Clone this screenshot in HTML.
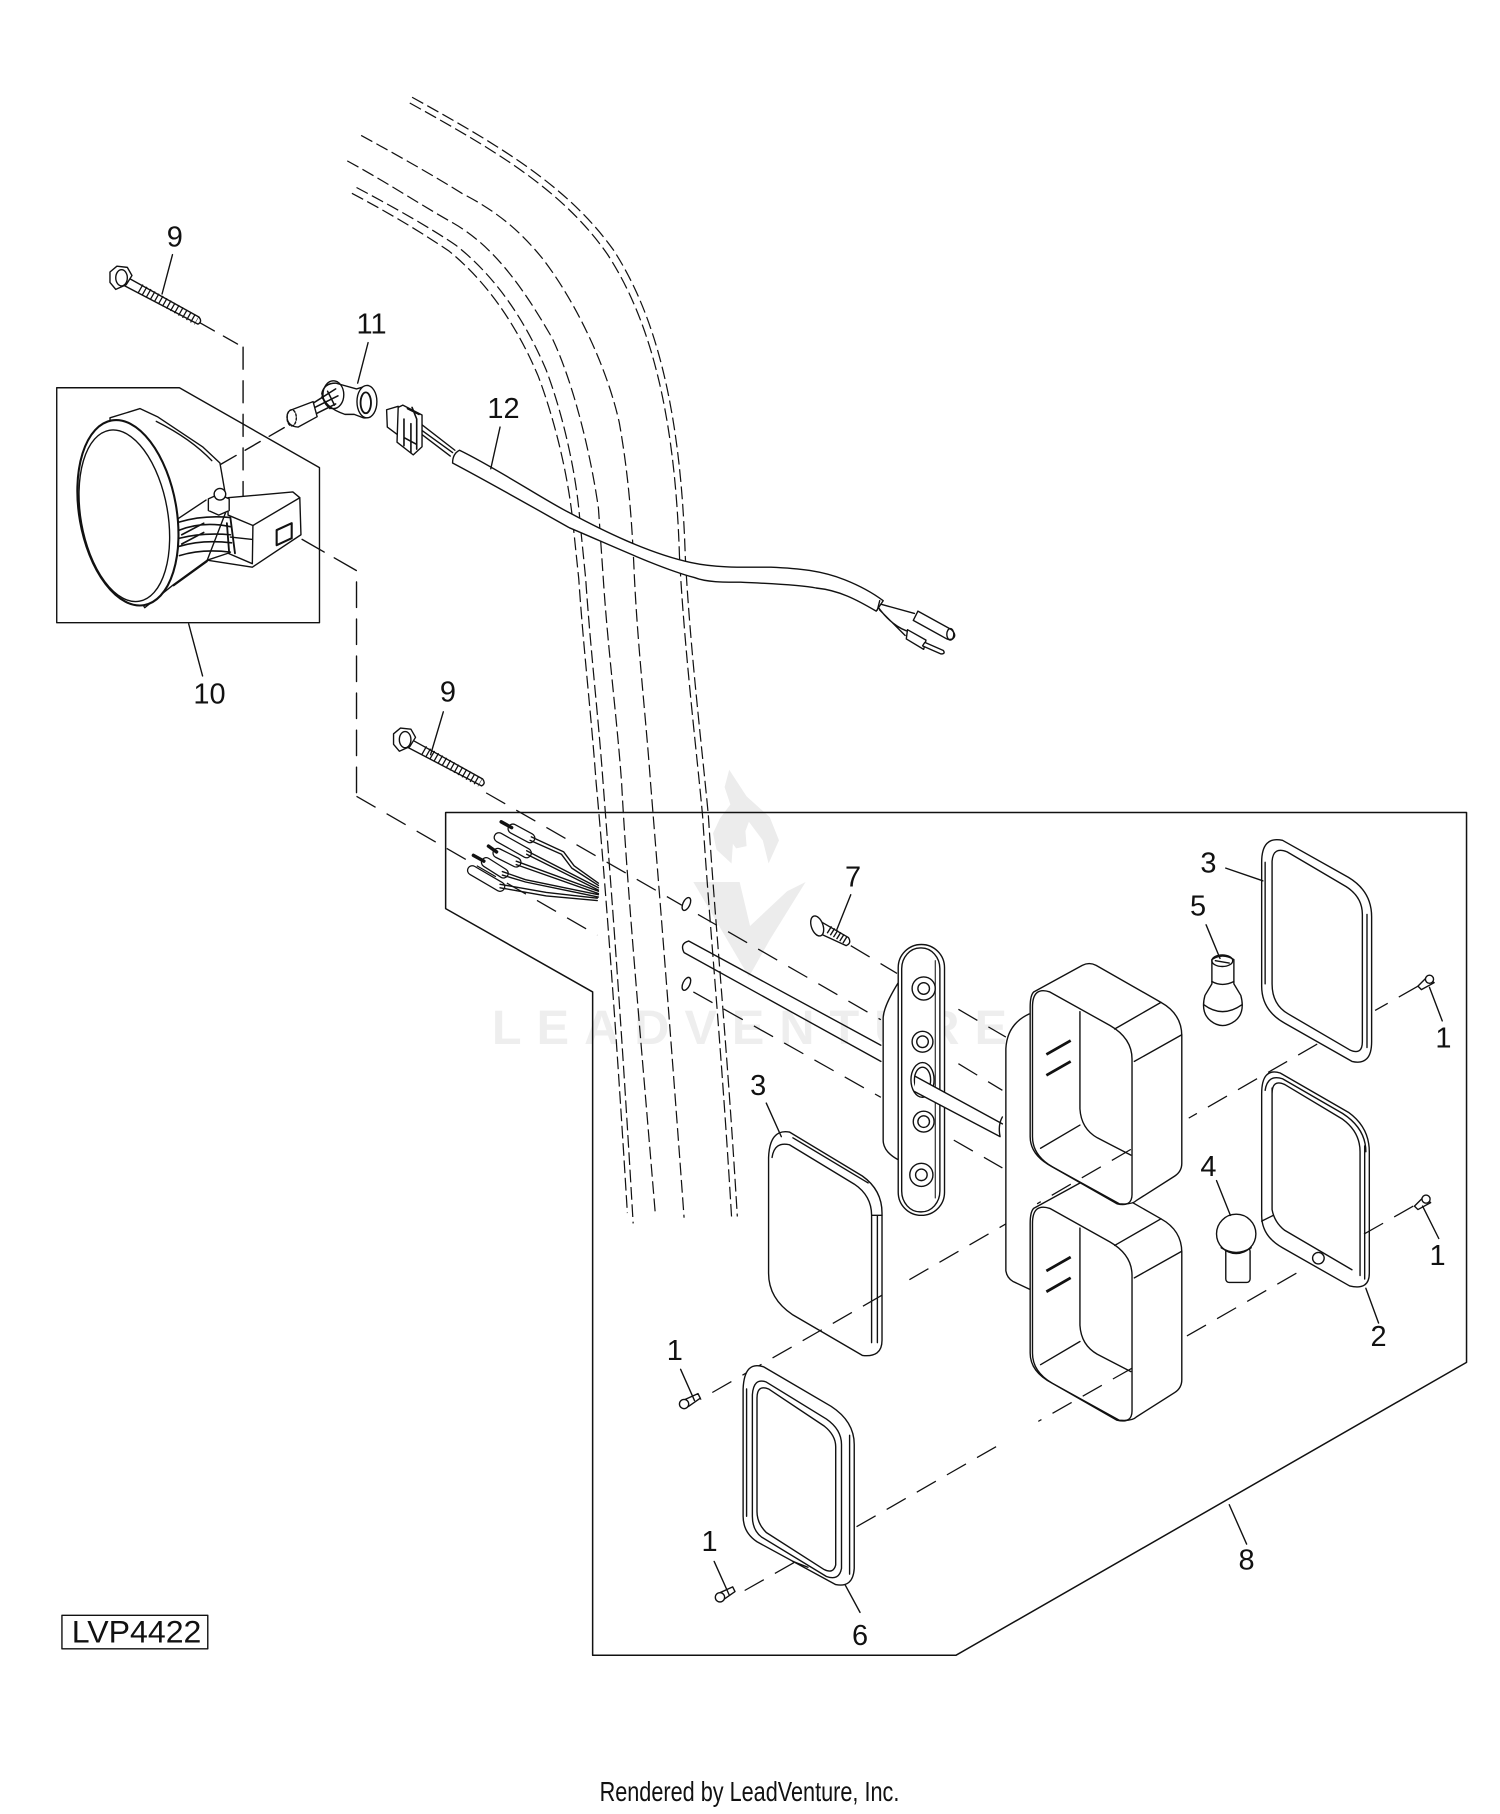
<!DOCTYPE html>
<html><head><meta charset="utf-8"><style>
html,body{margin:0;padding:0;background:#fff;width:1500px;height:1814px;overflow:hidden}
svg{display:block}
text{font-family:"Liberation Sans",sans-serif;fill:#111}
.n{font-size:25px;text-anchor:middle}
.s{fill:none;stroke:#111;stroke-width:1.2;stroke-linejoin:round;stroke-linecap:round}
.w{fill:#fff;stroke:#111;stroke-width:1.2;stroke-linejoin:round}
.h{fill:none;stroke:#111;stroke-width:1.05;stroke-dasharray:11 4}
.d{fill:none;stroke:#111;stroke-width:1.1;stroke-dasharray:19 11}
</style></head><body>
<svg width="1500" height="1814" viewBox="0 0 1295.9 1567.2" xmlns="http://www.w3.org/2000/svg">
<!-- watermark -->
<g fill="#ececec">
<path d="M630,665 L645,688 L665,706 L673,726 L664,746 L659,726 L647,710 L644,718 L645,731 L636,733 L631,726 L634,717 L632,746 L619,734 L616,720 L622,707 L631,695 L626,680Z"/>
<path d="M599,762 L639,762 L648,800 L680,770 L696,762 L665,812 L647,844Z"/>
<text x="425" y="902" font-size="42" font-weight="bold" textLength="445" lengthAdjust="spacing" style="fill:#eeeeee">LEADVENTURE</text>
</g>
<!-- hidden dashed curves -->
<path class="h" d="M356,84 C430,125 490,160 530,216 C565,270 588,350 592,480 C596,560 608,660 612,705 C618,800 628,900 637,1051"/>
<path class="h" d="M354,89 C428,130 486,164 525,220 C560,274 583,352 587,480 C591,560 603,660 607,705 C613,800 623,900 632,1051"/>
<path class="h" d="M312,117 C345,135 375,152 399,167 C430,183 450,200 470,225 C500,265 525,320 535,365 C543,410 546,450 548,497 C551,560 558,620 562,676 C568,750 580,900 591,1052"/>
<path class="h" d="M300,139 C335,158 365,178 392,193 C425,212 450,245 477,292 C495,330 510,390 517,439 L521,497 C525,560 533,620 537,676 C542,770 553,890 566,1047"/>
<path class="h" d="M308,162 C342,180 372,197 394,212 C427,238 453,275 472,320 C487,360 498,410 501,450 L506,500 C510,560 517,620 521,676 C525,730 535,850 547,1057"/>
<path class="h" d="M304,167 C338,185 366,202 388,217 C420,243 446,280 465,325 C480,365 491,412 495,452 L500,500 C504,560 511,620 515,676 C520,730 530,850 542,1048"/>
<!-- boxes -->
<path class="s" d="M49,335 L155,335 L276,404 L276,538 L49,538Z"/>
<path class="s" d="M385,702 L1267,702 L1267,1177 L826,1430 L512,1430 L512,857 L385,785Z" style="stroke-width:1.3"/>
<!-- assembly dashes -->
<path class="s" style="stroke-dasharray:19 10" d="M210,300 L210,430"/>
<path class="s" style="stroke-dasharray:14 9" d="M173,279 L210,300"/>
<path class="s" style="stroke-dasharray:15 9" d="M191,401 L248,368"/>
<path class="s" style="stroke-dasharray:22 10" d="M261,466 L308,493 L308,688"/>
<path class="d" d="M308,688 L516,808"/>
<path class="d" d="M599,857 L761,948"/>
<path class="d" d="M824,985 L866,1009"/>
<path class="d" d="M420,685 L589,782"/>
<path class="d" d="M603,790 L761,881"/>
<path class="d" d="M828,919 L866,942"/>
<path class="d" d="M735,817 L775,841"/>
<path class="d" d="M828,872 L869,896"/>
<path class="d" d="M1225,852 L1188,873"/>
<path class="d" d="M1138,902 L1027,966"/>
<path class="d" d="M880,1051 L778,1110"/>
<path class="d" d="M762,1119 L605,1209"/>
<path class="d" d="M1221,1042 L1177,1067"/>
<path class="d" d="M1120,1100 L1024,1155"/>
<path class="d" d="M740,1319 L862,1249"/>
<path class="d" d="M686,1350 L640,1376"/>
<!-- lamp 10 -->
<path class="w" d="M95,361 L121,353 L136,360 L175,386 L190,400 L194,423 L196,440 L179,484 L150,505 L125,525 L100,480Z"/>
<path class="s" d="M135,364 Q165,379 183,398"/>
<path class="s" d="M154,448 L178,432 M150,506 L179,485"/>
<g transform="rotate(-10 110.5 443)">
<ellipse cx="110.5" cy="443" rx="42" ry="81" class="w" style="stroke-width:1.8"/>
<ellipse cx="107" cy="445" rx="37.5" ry="75" class="s"/>
</g>
<path class="s" d="M155,451 Q175,445 198,447 M155,458 Q175,450 199,455 M155,465 Q175,460 199,462 M155,472 Q175,466 200,469 M155,480 Q175,474 199,477 M157,462 L176,452 M157,470 L176,460" style="stroke-width:1.4"/>
<path class="s" d="M199,447 L203,478 M196,452 L198,478" style="stroke-width:1.6"/>
<path class="w" d="M197,430 L253,425 L259,430 L260,462 L218,490 L179,484 L197,478 L218,487 L218.5,454 L197,445Z"/>
<path class="s" d="M218.5,454 L259,430 M199,464 L218,466"/>
<path class="w" d="M239,458 L252,452 L252,465 L239,471Z" style="stroke-width:1.8"/>
<path class="w" d="M180,431 L189,427 L198,431 L198,441 L189,445 L180,441Z"/>
<ellipse cx="190" cy="427" rx="5" ry="5" class="w"/>
<!-- socket 11 -->
<path class="w" d="M278,340 Q280,331 290,331 L308,336 L318,333 Q326,340 325,351 Q322,362 314,361 L306,358 L298,358 Q280,352 278,340Z"/>
<ellipse cx="288" cy="341" rx="9" ry="12" class="s"/>
<ellipse cx="317" cy="347" rx="8.6" ry="14" class="w"/>
<ellipse cx="316" cy="348" rx="4.5" ry="9" class="s" style="stroke-width:1.6"/>
<path class="s" d="M271,348 L290,336 M272,352 L292,342 M274,357 L290,349 M278,343 L285,353 M283,338 L289,350" style="stroke-width:1.3"/>
<path class="w" d="M252,354 L270.5,347 L274,360 L257.5,369 Q248,368 248,360 Q248,355 252,354Z"/>
<ellipse cx="252" cy="361" rx="4" ry="7" class="s" style="stroke-dasharray:2 1.5"/>
<!-- connector 12 -->
<path class="s" d="M364.6,367 L393,389 M360,372 L389,394 M362,370 L391,391"/>
<path class="w" d="M334,354 L344,351 L348,374 L344,376 L334.6,369Z"/>
<path class="w" d="M344,352 L348,350 L364.6,358.5 L364.6,386 L357,393 L343,382Z"/>
<path class="s" d="M352,353 L362,358 M356,352 L360,362 M349,362 L349,385 M355,366 L355,391 M349,378 L360,384 M360,362 L360,388" style="stroke-width:1.4"/>
<!-- harness -->
<path class="w" d="M397,389 C430,405 470,432 492,443 C520,458 560,478 597,486 C620,491 645,490 666,490 C690,491 710,493 730,501 C745,507 755,513 763,519 L757,528 C740,518 725,510 705,508 C690,505 660,504 640,503 C625,503 610,503 600,499 C570,491 530,472 492,456 C460,438 425,418 391,400 Q391,392 397,389Z"/>
<path class="s" d="M760,519 L758,527 M761,522 L790,530 M759,525 Q770,540 783,545 M760,527 L782,549"/>
<path class="w" d="M793,528 L822,544 Q827,549 823,552 Q820,553 818,552 L789,536Z"/>
<ellipse cx="821" cy="548" rx="3" ry="5" class="s"/>
<path class="w" d="M784,544 L800,553 L798,561 L783,552Z"/>
<path class="w" d="M799,555 L815,562 Q817,565 813,565 L797,558Z"/>
<!-- bolts -->
<g id="b1"><path class="w" d="M107,238 L172,274 Q175,278 171,280 L104,245Z"/>
<path d="M121,249 L170,277" stroke="#111" stroke-width="8" stroke-dasharray="1.1 2.9" fill="none"/>
<path d="M122,250 L170,277" stroke="#fff" stroke-width="4" stroke-dasharray="1.2 2.8" fill="none" opacity=".0"/>
<path class="w" d="M95,235 L101,230 L110,231 L114,238 L109,246 L100,250 L95,244Z"/>
<ellipse cx="105" cy="240" rx="5" ry="7" class="s"/></g>
<g transform="translate(245 399)"><path class="w" d="M107,238 L172,274 Q175,278 171,280 L104,245Z"/>
<path d="M121,249 L170,277" stroke="#111" stroke-width="8" stroke-dasharray="1.1 2.9" fill="none"/>
<path class="w" d="M95,235 L101,230 L110,231 L114,238 L109,246 L100,250 L95,244Z"/>
<ellipse cx="105" cy="240" rx="5" ry="7" class="s"/></g>
<!-- wire plugs -->
<g fill="none" stroke-linecap="round">
<path d="M443,716 L458,724 M431,723.500 L455,737 M430,737 L446,745 M420,745 L435,754.500 M408,752 L432,766" stroke="#111" stroke-width="9.2"/>
<path d="M443,716 L458,724 M431,723.500 L455,737 M430,737 L446,745 M420,745 L435,754.500 M408,752 L432,766" stroke="#fff" stroke-width="7"/>
<path d="M433,710 L442,715 M422,731 L429,736 M409,739 L418,744" stroke="#111" stroke-width="3"/>
</g>
<path class="s" d="M459,723 L487,736 L496,748 L517,763 M458,726 L485,738 L494,750 L517,765 M455,735 L517,767 M455,738 L517,769 M446,744 L517,770 M446,747 L517,772 M434,753 L454,760 L517,773 M434,756 L454,762 L517,775 M432,764 L472,771 L516,776 M432,767 L472,774 L516,778"/>
<!-- rod -->
<path class="s" d="M595,813 L761,903 M591,823 L761,917 M595,813 Q587,815 591,823"/>
<!-- flange behind housings -->
<path d="M889,876 Q870,885 869,906 L869,1098 Q870,1104 875,1107 L892,1115 L900,876Z" fill="#fff"/>
<path class="s" d="M889,876 Q870,885 869,906 L869,1098 Q870,1104 875,1107 L892,1115"/>
<!-- plate -->
<path class="w" d="M776,849 Q763,870 763,880 L763,985 Q763,995 776,1002 L790,1002 L790,849Z"/>
<rect x="776" y="816" width="40" height="234" rx="20" ry="20" class="w"/>
<rect x="779" y="819" width="33" height="228" rx="16" ry="18" class="s"/>
<path class="s" d="M808,830 L808,1035" style="stroke-width:.9"/>
<circle cx="798" cy="854" r="10" class="w"/><circle cx="798" cy="854" r="5" class="s"/>
<circle cx="797" cy="900" r="9" class="w"/><circle cx="797" cy="900" r="5" class="s"/>
<ellipse cx="797" cy="933" rx="10" ry="15" class="w"/><ellipse cx="797" cy="933" rx="7" ry="11" class="s"/>
<circle cx="798" cy="969" r="9" class="w"/><circle cx="798" cy="969" r="5" class="s"/>
<circle cx="796" cy="1015" r="10" class="w"/><circle cx="796" cy="1015" r="5" class="s"/>
<path d="M791,930 L866,971 L866,982 L790,943Z" fill="#fff"/>
<path class="s" d="M791,930 L866,971 M790,943 L864,982 M866,965 Q862,972 864,982"/>
<!-- small screw 7 -->
<path class="w" d="M707,795 L733,810 Q736,815 731,817 L707,806Z"/>
<path d="M716,803 L732,813" stroke="#111" stroke-width="7" stroke-dasharray="1.2 2" fill="none"/>
<ellipse cx="706" cy="800" rx="5" ry="9" class="w" transform="rotate(-20 706 800)"/>
<!-- o-rings -->
<ellipse cx="593" cy="781" rx="3" ry="6" class="w" transform="rotate(25 593 781)"/>
<ellipse cx="593" cy="850" rx="3" ry="6" class="w" transform="rotate(25 593 850)"/>
<!-- housings -->
<g transform="translate(-3 187)">
<path class="w" d="M896,857 L938,834 Q944,831 950,834 L1006,866 Q1024,876 1024,895 L1024,1005 Q1024,1012 1018,1016 L985,1037 Q981,1041 970,1040 L912,1008 Q893,998 893,982 L893,870 Q893,860 896,857Z"/>
<path class="s" d="M895,870 Q895,852 910,857 L962,886 Q981,897 981,915 L981,1032 Q981,1043 968,1040 L912,1008 Q895,998 895,982Z"/>
<path class="s" d="M966,889 L1006,866 M983,917 L1024,894 M936,874 L936,958 Q937,975 951,983 L980,998 M902,992 L936,972"/>
<path d="M907,911 L928,899 M907,929 L928,917" stroke="#111" stroke-width="2.4" fill="none"/>
</g>
<g transform="translate(-3 0)">
<path class="w" d="M896,857 L938,834 Q944,831 950,834 L1006,866 Q1024,876 1024,895 L1024,1005 Q1024,1012 1018,1016 L985,1037 Q981,1041 970,1040 L912,1008 Q893,998 893,982 L893,870 Q893,860 896,857Z"/>
<path class="s" d="M895,870 Q895,852 910,857 L962,886 Q981,897 981,915 L981,1032 Q981,1043 968,1040 L912,1008 Q895,998 895,982Z"/>
<path class="s" d="M966,889 L1006,866 M983,917 L1024,894 M936,874 L936,958 Q937,975 951,983 L980,998 M902,992 L936,972"/>
<path d="M907,911 L928,899 M907,929 L928,917" stroke="#111" stroke-width="2.4" fill="none"/>
<path class="d" d="M980,993 L899,1040"/>
<path class="d" d="M981,1182 L900,1228"/>
</g>
<!-- seal 3 top right -->
<path class="s" d="M1090,745 Q1090,722 1108,726 L1165,758 Q1185,770 1185,792 L1185,900 Q1185,921 1168,917 L1110,884 Q1090,873 1090,852Z"/>
<path class="s" d="M1099,744 Q1100,731 1112,736 L1163,766 Q1177,775 1177,790 L1177,900 Q1177,912 1166,907 L1113,876 Q1099,868 1099,850Z"/>
<path class="s" d="M1093,745 L1093,850 M1181,790 L1181,905"/>
<!-- lamp 2 -->
<path class="s" d="M1090,945 Q1090,922 1106,927 L1165,961 Q1183,974 1183,995 L1183,1100 Q1183,1115 1166,1111 L1108,1078 Q1090,1068 1090,1050Z"/>
<path class="s" d="M1093,942 Q1095,928 1108,932 L1160,962 Q1180,975 1180,995"/>
<path class="s" d="M1099,945 Q1099,932 1110,937 L1160,967 Q1175,978 1175,995 L1175,1102 M1099,940 L1099,1045 Q1101,1056 1110,1063 L1168,1097 M1179,990 L1179,1105"/>
<path class="s" d="M1090,1055 L1100,1050"/>
<circle cx="1139" cy="1087" r="5" class="w"/>
<!-- lens 3 mid -->
<path class="s" d="M664,1000 Q665,975 682,978 L745,1016 Q762,1028 762,1048 L762,1158 Q762,1173 745,1171 L685,1136 Q664,1122 664,1100Z"/>
<path class="s" d="M667,1000 Q669,986 682,989 L738,1023 Q753,1033 753,1050 L753,1160 M753,1050 L762,1050 M685,983 L750,1022 M758,1050 L758,1160"/>
<!-- gasket 6 -->
<path class="w" d="M642,1200 Q643,1175 660,1181 L718,1215 Q738,1228 738,1248 L738,1355 Q737,1372 722,1369 L654,1332 Q642,1324 642,1310Z"/>
<path class="s" d="M650,1205 Q651,1190 662,1194 L714,1226 Q727,1235 727,1248 L727,1355 Q725,1366 714,1362 L658,1328 Q650,1322 650,1310Z"/>
<path class="s" d="M654,1208 Q654,1196 664,1200 L712,1232 Q722,1240 722,1250 L722,1352 Q720,1360 712,1356 L662,1324 Q654,1316 654,1306Z"/>
<path class="s" d="M734,1240 L734,1360 M645,1200 L645,1310 M685,1349 L698,1354"/>
<!-- bulbs -->
<path class="w" d="M1047,829 Q1056,823 1066,829 L1066,850 L1072,860 Q1076,875 1067,882 Q1056,890 1046,882 Q1037,875 1041,860 L1047,850Z"/>
<ellipse cx="1056" cy="830" rx="9" ry="5" class="s"/>
<path class="s" d="M1050,830 L1062,832 M1040,868 Q1056,880 1073,868 M1047,848 Q1056,853 1066,848" />
<rect x="1059" y="1078" width="21" height="30" rx="3" class="w"/>
<ellipse cx="1068" cy="1066" rx="17" ry="17" class="w"/>
<path class="s" d="M1055,1078 Q1068,1086 1081,1078"/>
<!-- small screws 1 -->
<path class="s" d="M1225,852 L1233,844 L1239,849 L1228,855Z"/>
<circle cx="1235" cy="846" r="3.5" class="w"/>
<g transform="translate(-3 190)"><path class="s" d="M1225,852 L1233,844 L1239,849 L1228,855Z"/><circle cx="1235" cy="846" r="3.5" class="w"/></g>
<path class="s" d="M592,1209 L603,1204 L605,1208 L595,1215Z"/><circle cx="591" cy="1213" r="4" class="w"/>
<path class="s" d="M622,1376 L633,1371 L635,1375 L625,1382Z"/><circle cx="622" cy="1380" r="4" class="w"/>
<!-- leaders -->
<path class="s" d="M149,220 L140,254 M318,296 L309,331 M432,369 L424,405 M163,539 L175,584 M383,615 L372,652 M735,773 L723,803 M1059,750 L1091,761 M1042,799 L1054,828 M1051,1020 L1063,1050 M662,953 L675,982 M1180,1113 L1191,1143 M730,1369 L743,1393 M1062,1300 L1077,1334 M1235,853 L1246,882 M1229,1042 L1243,1070 M588,1183 L600,1210 M617,1349 L630,1378"/>
<!-- labels -->
<text class="n" x="151" y="213">9</text>
<text class="n" x="321" y="288">11</text>
<text class="n" x="435" y="361">12</text>
<text class="n" x="181" y="608">10</text>
<text class="n" x="387" y="606">9</text>
<text class="n" x="737" y="766">7</text>
<text class="n" x="1044" y="754">3</text>
<text class="n" x="1035" y="791">5</text>
<text class="n" x="655" y="946">3</text>
<text class="n" x="1247" y="905">1</text>
<text class="n" x="1242" y="1093">1</text>
<text class="n" x="1044" y="1016">4</text>
<text class="n" x="1191" y="1163">2</text>
<text class="n" x="583" y="1175">1</text>
<text class="n" x="613" y="1340">1</text>
<text class="n" x="743" y="1421">6</text>
<text class="n" x="1077" y="1356">8</text>
<rect x="53.5" y="1395.5" width="126" height="29" class="w"/>
<text x="62" y="1419" font-size="27" textLength="112" lengthAdjust="spacingAndGlyphs">LVP4422</text>
<text x="518" y="1556" font-size="24" textLength="259" lengthAdjust="spacingAndGlyphs">Rendered by LeadVenture, Inc.</text>
</svg>
</body></html>
